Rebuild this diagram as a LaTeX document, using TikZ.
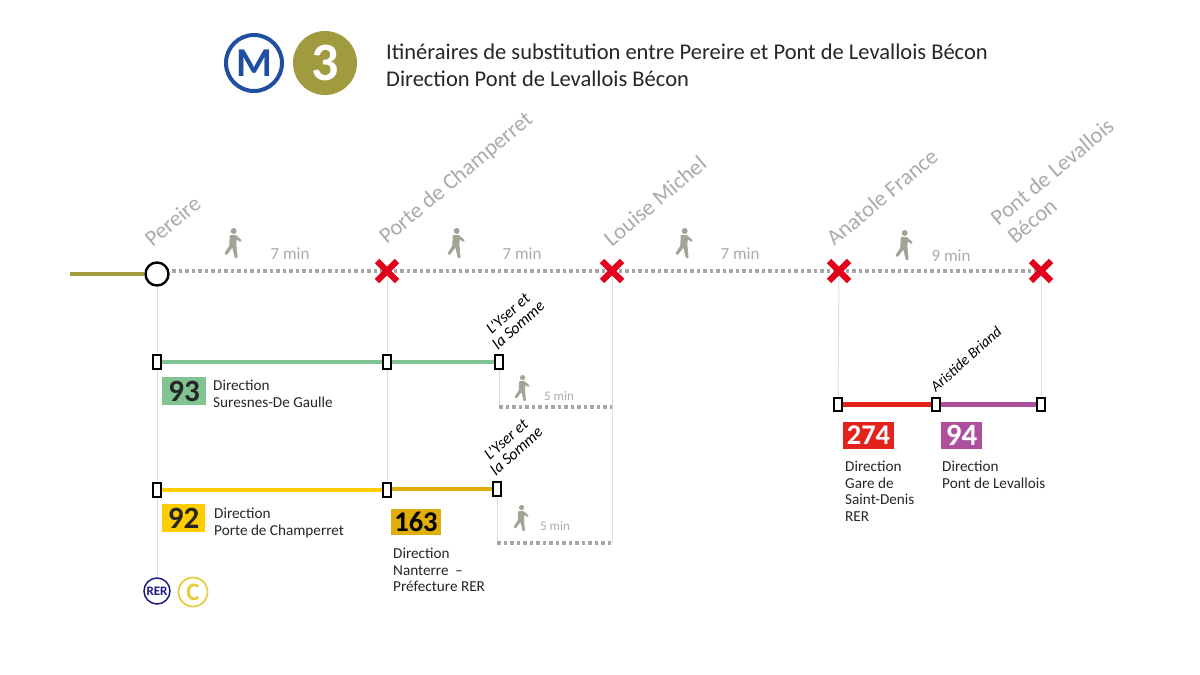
\documentclass[tikz,border=0pt]{standalone}
\usepackage{fontspec}
\setmainfont{Carlito}
\definecolor{metroolive}{HTML}{A09B3F}
\definecolor{metroblue}{HTML}{1F4FA0}
\definecolor{labelgrey}{HTML}{ABABAB}
\definecolor{dotgrey}{HTML}{A6A6A6}
\definecolor{walkgrey}{HTML}{A3A396}
\definecolor{crossred}{HTML}{E2001A}
\definecolor{stemgrey}{HTML}{DEDEDE}
\definecolor{busgreen}{HTML}{82C491}
\definecolor{busyellow}{HTML}{FFCD00}
\definecolor{busgold}{HTML}{E0AD0B}
\definecolor{busred}{HTML}{E3231B}
\definecolor{buspurple}{HTML}{AD4F9C}
\definecolor{rerblue}{HTML}{1D1A82}
\definecolor{cyellow}{HTML}{E8CB3C}
\tikzset{
  stationlabel/.style={text=labelgrey,font=\fontsize{22.5}{25}\selectfont,rotate=40,align=center,inner sep=0pt},
  stoplabel/.style={text=black,font=\itshape\fontsize{15}{15}\selectfont,rotate=42,align=center,inner sep=0pt},
  yserlabel/.style={stoplabel,font=\itshape\fontsize{16}{15.5}\selectfont},
  walkline/.style={draw=dotgrey,line width=3.2pt,dash pattern=on 3.5pt off 3pt},
  stem/.style={draw=stemgrey,line width=1pt},
  busline/.style={line width=4.6pt},
  stopmark/.style={draw=black,fill=white,line width=1.8pt,minimum width=8pt,minimum height=13.5pt,inner sep=0pt,rectangle},
  closedstop/.style={inner sep=0pt,minimum size=0pt},
  badge/.style={font=\bfseries\fontsize{31}{31}\selectfont,inner sep=0pt,anchor=center},
  badgewide/.style={badge,font=\bfseries\fontsize{28.5}{28.5}\selectfont},
  dirtext/.style={font=\fontsize{15.2}{16.5}\selectfont,align=left,anchor=north west,inner sep=0pt,text=black!85},
  mintext/.style={text=labelgrey,inner sep=0pt},
  walker/.pic={
    \fill[walkgrey] (0.7,-12) circle (3);
    \fill[walkgrey,rounded corners=0.8pt] (-3.4,-8) -- (2.8,-8) -- (9,-2.6) -- (7.6,-1) -- (3.6,-3.6) -- (3.4,2) -- (4.6,15) -- (1.8,15) -- (-0.6,4.6) -- (-6.4,12.2) -- (-8.6,10.4) -- (-3.6,2.6) -- cycle;
  }
}
\begin{document}
\begin{tikzpicture}[x=1pt,y=-1pt]
\useasboundingbox (0,0) rectangle (1200,675);
\fill[white] (0,0) rectangle (1200,675);

% header
\node[circle,draw=metroblue,line width=4pt,minimum size=56pt,inner sep=0pt,text=metroblue,font=\bfseries\fontsize{41}{41}\selectfont] (logoM) at (254,63) {M};
\node[circle,fill=metroolive,minimum size=64pt,inner sep=0pt,text=white,font=\bfseries\fontsize{54}{54}\selectfont] (logo3) at (325,63) {3};
\node[anchor=west,align=left,inner sep=0pt,font=\fontsize{22.5}{27}\selectfont,text=black!85] (title) at (386,65) {Itinéraires de substitution entre Pereire et Pont de Levallois Bécon\\Direction Pont de Levallois Bécon};

% named points
\coordinate (lineStart) at (70,274);
\node[circle,draw=black,fill=white,line width=2.4pt,minimum size=23pt,inner sep=0pt] (pereire) at (157,274) {};
\node[closedstop] (champerret) at (387,271) {};
\node[closedstop] (louise) at (612,271) {};
\node[closedstop] (anatole) at (839,271) {};
\node[closedstop] (pontlev) at (1041,271) {};
\coordinate (walkStart) at (172,271);
\node[circle,draw=rerblue,line width=1.5pt,minimum size=26pt,inner sep=0pt,text=rerblue,font=\bfseries\fontsize{13}{13}\selectfont] (rer) at (157,591) {RER};
\node[circle,draw=cyellow,line width=1.7pt,minimum size=29pt,inner sep=0pt,text=cyellow,font=\bfseries\fontsize{25}{25}\selectfont] (rerC) at (193,592) {C};

\node[stopmark] (g1) at (157,362) {};
\node[stopmark] (g2) at (387,362) {};
\node[stopmark] (g3) at (499,362) {};
\node[stopmark] (y1) at (157,490) {};
\node[stopmark] (y2) at (387,490) {};
\node[stopmark] (y3) at (497,489) {};
\node[stopmark] (r1) at (838,404.5) {};
\node[stopmark] (r2) at (936,404.5) {};
\node[stopmark] (r3) at (1041,404.5) {};
\coordinate (gEnd) at (612,407);
\coordinate (gStart) at (499,407);
\coordinate (yEnd) at (612,543);
\coordinate (yStart) at (497,543);

% stems
\draw[stem] (pereire.south) -- (g1.north);
\draw[stem] (g1.south) -- (y1.north);
\draw[stem] (y1.south) -- (rer.north);
\draw[stem] (champerret) -- (g2.north);
\draw[stem] (g2.south) -- (y2.north);
\draw[stem] (louise) -- (yEnd);
\draw[stem] (anatole) -- (r1.north);
\draw[stem] (pontlev) -- (r3.north);
\draw[stem] (g3.south) -- (gStart);
\draw[stem] (y3.south) -- (yStart);

% main line
\draw[metroolive,line width=4.2pt] (lineStart) -- (pereire.west);
\draw[walkline] (walkStart) -- (champerret) -- (louise) -- (anatole) -- (pontlev);
\draw[walkline] (gStart) -- (gEnd);
\draw[walkline] (yStart) -- (yEnd);

% closed-station crosses
\foreach \s in {champerret,louise,anatole,pontlev}{
  \draw[crossred,line width=6.2pt] ([shift={(-10,-10)}]\s.center) -- ([shift={(10,10)}]\s.center);
  \draw[crossred,line width=6.2pt] ([shift={(-10,10)}]\s.center) -- ([shift={(10,-10)}]\s.center);
}

% bus lines
\draw[busline,busgreen] (g1) -- (g2);
\draw[busline,busgreen] (g2) -- (g3);
\draw[busline,busyellow] (y1) -- (y2);
\draw[busline,busgold] (y2 |- y3) -- (y3);
\draw[busline,busred] (r1) -- (r2);
\draw[busline,buspurple] (r2) -- (r3);
\foreach \m in {g1,g2,g3,y1,y2,y3,r1,r2,r3}{
  \node[stopmark] at (\m) {};
}

% badges
\node[badge,fill=busgreen,minimum width=44pt,minimum height=28pt,text=black!85] (b93) at (184,391) {93};
\node[badge,fill=busyellow,minimum width=43pt,minimum height=28pt,text=black!85] (b92) at (183.5,518) {92};
\node[badgewide,fill=busgold,minimum width=50pt,minimum height=26pt,text=black] (b163) at (416,522) {163};
\node[badgewide,fill=busred,minimum width=51pt,minimum height=27pt,text=white] (b274) at (868.5,435.5) {274};
\node[badge,fill=buspurple,minimum width=41pt,minimum height=27pt,text=white] (b94) at (961.5,435.5) {94};

% directions
\node[dirtext] (d93) at (213,380) {Direction\\Suresnes-De Gaulle};
\node[dirtext] (d92) at (214,508) {Direction\\Porte de Champerret};
\node[dirtext] (d163) at (393,548) {Direction\\Nanterre~~–\\Préfecture RER};
\node[dirtext] (d274) at (845,461) {Direction\\Gare de\\Saint-Denis\\RER};
\node[dirtext] (d94) at (942,461) {Direction\\Pont de Levallois};

% station labels
\node[stationlabel] (lPereire) at (172.5,221) {Pereire};
\node[stationlabel] (lChamp) at (456.5,178.5) {Porte de Champerret};
\node[stationlabel] (lLouise) at (655,201) {Louise Michel};
\node[stationlabel] (lAnatole) at (882,197) {Anatole France};
\node[stationlabel] (lPont) at (1052,172) {Pont de Levallois};
\node[stationlabel] (lBecon) at (1032,221) {Bécon};
\node[yserlabel] (lY1) at (513,319) {L'Yser et\\la Somme};
\node[yserlabel] (lY2) at (511,445) {L'Yser et\\la Somme};
\node[stoplabel] (lA) at (966,359) {Aristide Briand};

% walking times
\node[mintext,font=\fontsize{17}{17}\selectfont] (t1) at (290,254) {7 min};
\node[mintext,font=\fontsize{17}{17}\selectfont] (t2) at (522,254) {7 min};
\node[mintext,font=\fontsize{17}{17}\selectfont] (t3) at (740,254) {7 min};
\node[mintext,font=\fontsize{17}{17}\selectfont] (t4) at (951,256) {9 min};
\node[mintext,font=\fontsize{13}{13}\selectfont] (t5) at (559,396) {5 min};
\node[mintext,font=\fontsize{13}{13}\selectfont] (t6) at (555,526) {5 min};
\path (233,243) pic {walker};
\path (456,243) pic {walker};
\path (684,243) pic {walker};
\path (904,245) pic {walker};
\path (522,388) pic[scale=0.87] {walker};
\path (521,518) pic[scale=0.87] {walker};
\end{tikzpicture}
\end{document}
